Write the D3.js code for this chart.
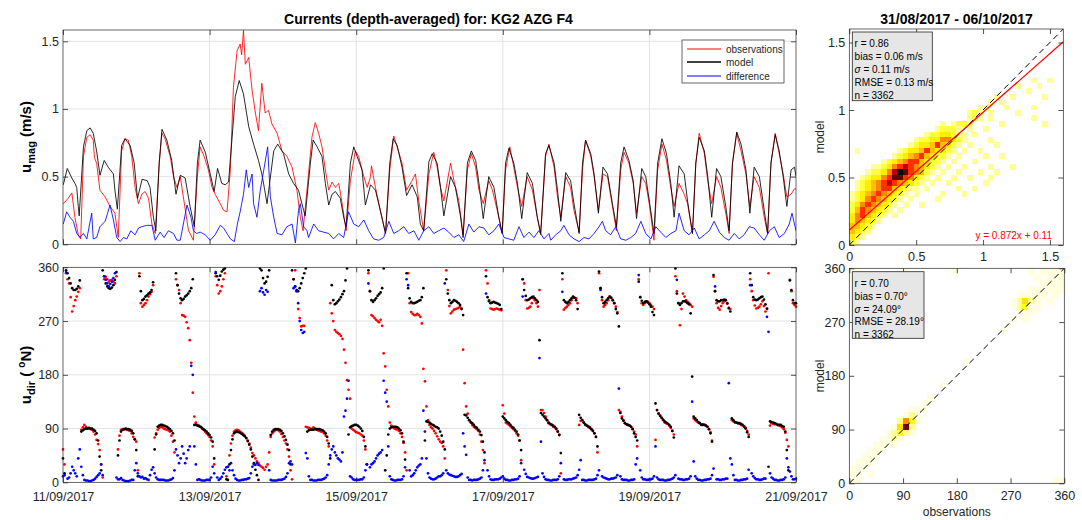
<!DOCTYPE html>
<html><head><meta charset="utf-8">
<script src="https://cdn.jsdelivr.net/npm/d3@7"></script>
<style>
body{margin:0;background:#fff}
svg text{font-family:"Liberation Sans",Arial,Helvetica,sans-serif}
</style>
</head><body>
<svg id="c" width="1082" height="520"></svg>
<script>
// ---------------- DATA ----------------
// time in hours since 11/09/2017 00:00
const dateTickHours = [0, 48, 96, 144, 192, 240];
const dateTickLabels = ["11/09/2017","13/09/2017","15/09/2017","17/09/2017","19/09/2017","21/09/2017"];
const magTicks = [0, 0.5, 1, 1.5];
const dirTicks = [0, 90, 180, 270, 360];
const seriesNames = ["observations", "model", "difference"];

// magnitude (m/s): [hour, value]
const obsMag = [[0.1,0.30],[1.7,0.34],[2.9,0.38],[3.9,0.20],[5.0,0.07],[5.8,0.04],[6.7,0.65],[7.8,0.79],[8.9,0.81],[9.9,0.77],[10.3,0.64],[11.0,0.60],[12.1,0.40],[13.8,0.35],[15.4,0.28],[17.0,0.23],[18.1,0.05],[19.2,0.69],[20.3,0.78],[21.4,0.77],[22.5,0.65],[23.6,0.42],[24.7,0.30],[25.8,0.37],[26.9,0.39],[28.0,0.34],[29.1,0.15],[30.2,0.08],[31.5,0.60],[32.4,0.82],[33.4,0.78],[35.1,0.65],[36.2,0.50],[37.3,0.42],[38.4,0.50],[39.4,0.35],[41.1,0.10],[42.7,0.03],[44.0,0.50],[44.9,0.72],[46.2,0.65],[47.6,0.55],[48.8,0.42],[49.8,0.37],[51.5,0.30],[52.6,0.25],[53.7,0.24],[54.8,0.55],[55.8,1.16],[57.0,1.43],[58.0,1.48],[58.5,1.40],[59.1,1.58],[59.7,1.33],[60.8,1.38],[61.9,1.14],[63.0,0.97],[64.0,0.84],[65.1,1.19],[66.2,0.97],[67.3,0.99],[68.4,0.89],[70.1,0.82],[71.7,0.69],[73.3,0.65],[75.0,0.57],[76.6,0.40],[77.7,0.20],[78.6,0.10],[80.4,0.52],[81.5,0.79],[82.6,0.90],[83.7,0.82],[84.8,0.72],[85.9,0.55],[87.0,0.40],[88.1,0.46],[89.2,0.42],[90.3,0.45],[91.4,0.30],[92.7,0.10],[94.1,0.47],[95.7,0.69],[96.8,0.65],[98.5,0.50],[99.6,0.42],[100.7,0.50],[101.0,0.58],[102.3,0.42],[103.9,0.25],[105.6,0.08],[107.0,0.55],[108.3,0.80],[109.4,0.72],[111.0,0.60],[112.5,0.40],[114.3,0.47],[115.4,0.52],[116.5,0.32],[118.1,0.10],[119.8,0.52],[121.4,0.68],[122.5,0.57],[123.6,0.42],[124.7,0.32],[126.9,0.60],[128.0,0.47],[129.6,0.32],[131.0,0.07],[132.4,0.55],[133.7,0.67],[135.1,0.57],[136.2,0.40],[137.6,0.30],[139.4,0.47],[140.6,0.40],[142.2,0.25],[143.8,0.08],[144.9,0.55],[146.3,0.72],[147.6,0.57],[148.8,0.42],[150.2,0.28],[152.0,0.50],[153.7,0.40],[155.3,0.20],[156.4,0.07],[158.0,0.65],[159.1,0.74],[160.8,0.57],[161.9,0.35],[163.0,0.20],[164.6,0.50],[166.2,0.42],[167.3,0.25],[169.0,0.09],[170.1,0.55],[171.1,0.77],[172.8,0.65],[173.9,0.50],[175.3,0.25],[176.8,0.52],[178.3,0.50],[179.9,0.28],[181.2,0.10],[182.6,0.55],[183.7,0.68],[185.3,0.60],[186.7,0.45],[187.8,0.23],[189.5,0.50],[190.8,0.45],[192.1,0.28],[193.5,0.03],[194.7,0.55],[196.1,0.74],[197.6,0.62],[199.0,0.42],[200.1,0.28],[201.7,0.45],[203.4,0.37],[204.5,0.30],[206.1,0.08],[207.2,0.60],[208.3,0.82],[210.0,0.67],[211.1,0.47],[212.4,0.30],[214.0,0.50],[215.4,0.42],[217.0,0.23],[218.1,0.08],[219.2,0.60],[220.6,0.82],[222.0,0.69],[223.6,0.52],[224.9,0.28],[226.3,0.50],[228.0,0.42],[229.6,0.20],[230.7,0.08],[231.8,0.60],[233.2,0.82],[234.5,0.67],[235.8,0.52],[237.0,0.35],[238.4,0.37],[239.5,0.41],[240.0,0.41]];

const modMag = [[0.1,0.44],[1.4,0.56],[2.9,0.49],[3.9,0.45],[4.5,0.42],[5.0,0.28],[5.3,0.21],[6.7,0.72],[7.8,0.84],[8.9,0.86],[9.9,0.82],[11.0,0.69],[12.1,0.51],[13.5,0.62],[14.8,0.57],[16.5,0.52],[17.0,0.40],[17.8,0.26],[19.2,0.73],[20.3,0.78],[22.0,0.73],[23.3,0.60],[24.4,0.34],[25.9,0.48],[27.6,0.47],[28.5,0.42],[29.6,0.20],[30.4,0.10],[31.5,0.60],[32.4,0.85],[34.0,0.77],[35.6,0.62],[37.0,0.37],[38.4,0.51],[40.0,0.49],[41.6,0.28],[43.0,0.13],[44.0,0.60],[44.9,0.77],[46.6,0.68],[48.2,0.52],[49.5,0.39],[50.6,0.56],[52.0,0.45],[53.1,0.44],[54.2,0.46],[55.3,0.77],[56.4,1.09],[57.7,1.21],[59.1,1.11],[60.8,0.87],[62.4,0.74],[64.0,0.62],[65.1,0.52],[65.9,0.42],[66.8,0.30],[69.0,0.69],[70.3,0.74],[72.2,0.67],[73.9,0.52],[75.5,0.45],[77.1,0.40],[78.8,0.25],[79.3,0.21],[81.0,0.60],[81.9,0.77],[83.2,0.72],[84.8,0.65],[85.9,0.45],[87.0,0.29],[88.1,0.37],[89.2,0.39],[90.8,0.34],[91.9,0.20],[92.7,0.13],[94.1,0.60],[95.2,0.72],[96.3,0.65],[97.9,0.55],[99.0,0.29],[100.7,0.44],[102.3,0.40],[103.9,0.25],[105.6,0.08],[107.0,0.60],[108.1,0.78],[109.4,0.73],[111.0,0.57],[112.5,0.36],[114.3,0.44],[116.0,0.35],[117.0,0.15],[118.1,0.10],[119.8,0.61],[120.9,0.67],[122.5,0.60],[123.6,0.42],[124.7,0.21],[126.9,0.50],[128.5,0.42],[130.2,0.20],[131.0,0.05],[132.4,0.60],[133.7,0.69],[135.1,0.62],[136.2,0.45],[137.6,0.19],[139.4,0.50],[141.1,0.42],[142.7,0.20],[143.8,0.08],[144.9,0.60],[146.0,0.71],[147.6,0.60],[148.8,0.45],[150.2,0.19],[152.0,0.53],[153.7,0.45],[155.3,0.20],[156.4,0.08],[158.0,0.67],[159.1,0.73],[160.8,0.60],[161.9,0.40],[163.0,0.17],[164.6,0.53],[166.2,0.47],[167.3,0.30],[169.0,0.08],[170.1,0.60],[171.1,0.77],[172.8,0.67],[173.9,0.52],[175.3,0.23],[176.8,0.57],[178.3,0.52],[179.9,0.30],[181.2,0.13],[182.6,0.60],[183.7,0.72],[185.3,0.62],[186.7,0.47],[187.8,0.19],[189.5,0.56],[190.8,0.50],[192.1,0.30],[193.5,0.08],[194.7,0.60],[196.1,0.78],[197.6,0.67],[199.0,0.45],[200.1,0.20],[201.7,0.58],[203.4,0.52],[204.5,0.32],[206.1,0.08],[207.2,0.60],[208.3,0.79],[210.0,0.69],[211.1,0.50],[212.4,0.20],[214.0,0.56],[215.4,0.50],[217.0,0.28],[218.1,0.10],[219.2,0.60],[220.6,0.83],[222.0,0.74],[223.6,0.55],[224.9,0.23],[226.3,0.57],[228.0,0.50],[229.6,0.25],[230.7,0.08],[231.8,0.60],[233.2,0.81],[234.5,0.69],[235.8,0.50],[237.0,0.28],[238.4,0.55],[239.5,0.57],[240.0,0.50]];

const difMag = [[0.1,0.15],[1.2,0.24],[2.3,0.20],[3.4,0.17],[4.5,0.08],[5.6,0.05],[6.7,0.08],[7.8,0.04],[9.4,0.23],[9.9,0.04],[11.0,0.05],[12.1,0.13],[13.8,0.17],[15.4,0.29],[16.5,0.18],[17.6,0.05],[18.7,0.02],[19.8,0.05],[20.9,0.04],[22.2,0.10],[23.6,0.07],[24.7,0.12],[25.8,0.13],[27.4,0.14],[29.1,0.14],[30.2,0.03],[31.8,0.09],[33.1,0.05],[34.5,0.10],[36.2,0.08],[37.3,0.03],[38.4,0.03],[40.6,0.29],[41.9,0.20],[42.7,0.10],[43.8,0.08],[44.9,0.09],[46.6,0.07],[48.2,0.03],[49.8,0.07],[51.5,0.14],[52.6,0.12],[53.7,0.08],[54.8,0.04],[56.1,0.02],[57.1,0.15],[58.0,0.24],[59.1,0.37],[60.0,0.55],[60.8,0.42],[61.9,0.52],[62.4,0.30],[63.5,0.20],[64.6,0.40],[65.9,0.57],[67.0,0.72],[67.9,0.35],[69.0,0.20],[70.1,0.08],[71.7,0.07],[73.3,0.13],[75.0,0.15],[76.1,0.01],[77.1,0.25],[77.7,0.30],[78.8,0.13],[79.9,0.10],[80.4,0.05],[82.1,0.15],[83.7,0.10],[85.3,0.09],[87.0,0.08],[88.6,0.04],[90.3,0.08],[91.9,0.05],[93.5,0.24],[95.2,0.15],[96.8,0.13],[98.5,0.18],[100.1,0.10],[101.7,0.04],[103.4,0.03],[105.0,0.05],[106.7,0.17],[108.3,0.08],[109.9,0.10],[111.6,0.13],[113.2,0.08],[114.9,0.10],[116.5,0.03],[118.1,0.10],[119.8,0.13],[121.4,0.08],[123.0,0.10],[124.7,0.12],[126.3,0.09],[128.0,0.05],[129.6,0.07],[131.2,0.02],[132.9,0.15],[134.5,0.09],[136.2,0.13],[137.8,0.12],[139.4,0.07],[141.1,0.10],[142.7,0.15],[144.4,0.05],[146.0,0.04],[147.6,0.03],[149.3,0.13],[150.9,0.05],[152.6,0.09],[154.2,0.05],[155.8,0.10],[157.5,0.04],[159.1,0.08],[159.7,0.03],[161.3,0.07],[163.0,0.10],[164.0,0.14],[165.7,0.07],[167.3,0.04],[169.0,0.02],[170.6,0.05],[172.2,0.04],[173.9,0.08],[175.5,0.13],[176.6,0.17],[177.7,0.10],[179.3,0.07],[181.0,0.13],[182.6,0.04],[184.3,0.03],[185.9,0.05],[187.5,0.08],[189.2,0.17],[190.8,0.08],[192.5,0.04],[194.1,0.13],[195.7,0.09],[197.4,0.05],[199.0,0.08],[200.7,0.10],[201.7,0.23],[203.4,0.10],[205.0,0.07],[206.7,0.12],[208.3,0.04],[210.0,0.07],[211.6,0.10],[213.2,0.17],[214.9,0.09],[216.5,0.05],[218.1,0.03],[219.8,0.08],[221.4,0.04],[223.0,0.07],[224.7,0.13],[226.3,0.12],[228.0,0.07],[229.6,0.03],[231.3,0.10],[232.9,0.13],[234.5,0.05],[236.2,0.08],[237.8,0.15],[238.7,0.23],[240.0,0.10]];

// direction (deg N) on the full hours 0..240
const obsDir = [55,350,333,286,305,319,88,96,90,89, 85,71,54,8,344,336,339,333,55,88, 89,88,86,76,68,350,294,300,311,319, 75,88,93,90,88,85,68,340,322,280, 277,258,200,110,96,93,88,82,76,60, 345,316,328,350,26,65,85,88,85,81, 74,65,49,40,32,26,21,30,76,85, 88,85,76,65,43,5,355,290,261,262, 92,90,92,88,86,85,78,60,283,255, 250,245,222,171,140,88,84,82,78,55, 350,280,275,270,272,216,155,100,92,89, 86,76,50,350,285,280,282,277,190,127, 96,90,82,72,66,40,322,283,289,291, 294,222,127,104,96,91,86,68,32,333, 291,289,291,289,129,100,96,91,86,78, 37,333,291,294,308,300,322,121,110,99, 96,92,85,15,289,294,300,310,308,96, 104,96,94,89,82,50,325,294,300,311, 305,294,121,110,99,96,93,85,60,310, 297,303,300,294,71,115,108,100,98,91, 80,320,263,316,305,300,294,104,100,97, 96,93,84,344,300,289,300,305,291,104, 100,99,96,94,86,340,305,291,294,303, 286,350,99,97,96,94,89,71,339,300, 294];
const modDir = [40,355,342,325,322,328,85,89,90,90, 88,82,43,355,333,325,326,339,45,85, 89,89,88,82,54,345,305,311,316,322, 55,93,96,95,93,89,82,350,316,305, 311,316,325,96,95,93,89,85,79,68, 350,339,353,358,4,54,82,85,83,79, 74,63,43,21,4,355,333,344,79,88, 89,88,82,71,54,355,328,320,333,350, 85,88,88,89,89,87,82,65,330,298, 303,310,320,358,92,95,96,93,86,60, 355,305,305,312,318,358,45,90,93,93, 90,82,38,325,302,300,302,305,325,102, 100,96,93,90,78,55,316,300,305,302, 297,280,112,104,99,93,88,79,50,310, 300,302,300,297,110,104,99,93,88,80, 54,322,305,308,311,305,238,113,107,100, 96,93,85,49,305,300,305,311,305,113, 104,97,93,89,82,60,325,300,305,311, 305,290,261,107,99,96,93,82,70,310, 300,303,298,285,132,115,108,102,98,93, 75,316,297,303,302,298,177,107,101,96, 96,93,82,347,305,303,305,305,292,107, 101,99,98,93,84,350,310,305,308,311, 298,26,101,99,96,96,93,54,338,305, 300];
const difDir = [10,352,8,26,15,40,26,4,3,2, 4,9,15,12,339,328,336,350,5,7, 3,2,3,4,32,10,9,7,4,21, 15,5,4,4,3,4,7,55,32,60, 32,54,195,60,4,4,3,4,4,26, 352,4,9,21,26,32,12,4,3,4, 5,7,26,29,29,325,314,319,4,3, 3,4,5,9,32,30,328,300,255,252, 40,4,3,3,4,5,8,30,55,50, 40,35,110,140,10,5,4,4,5,20, 333,30,35,45,50,170,135,10,4,3, 4,5,25,330,10,15,25,30,120,40, 8,5,6,10,12,333,15,12,10,9, 12,82,46,4,3,4,5,8,37,20, 5,4,5,6,10,4,3,4,5,6, 32,21,9,7,6,8,208,15,5,4, 3,4,5,32,5,4,5,6,8,21, 4,3,4,4,5,12,322,8,6,5, 6,8,157,5,4,3,4,5,40,20, 5,4,5,6,60,5,4,3,4,5, 8,339,5,4,5,6,135,10,4,3, 4,5,6,23,5,4,5,6,166,30, 4,3,4,5,6,330,10,5,4,5, 6,252,8,4,3,4,5,40,18,5, 6];
// direction (deg N) on the half hours 0.5..239.5
const obsDirHalf = [30,340,310,295,311,325,92,93,90,88, 80,64,30,340,340,338,336,345,78,89, 89,87,82,72,20,300,297,305,315,330, 82,91,92,89,87,78,50,330,300,279, 268,238,150,100,95,90,85,79,70,30, 330,320,340,10,45,78,87,87,83,78, 70,58,45,35,28,24,26,50,82,87, 87,81,70,55,20,340,320,275,262,93, 91,89,90,87,85,82,70,300,270,252, 248,240,200,155,90,86,83,80,70,30, 320,278,272,268,262,194,127,95,90,88, 82,66,20,300,282,280,280,266,169,104, 92,86,77,68,60,355,295,286,290,292, 291,166,115,100,93,89,80,54,355,305, 290,290,290,288,115,98,94,89,82,70, 340,305,292,300,305,294,121,116,104,97, 93,89,80,340,292,297,305,309,300,103, 100,95,92,86,76,350,305,297,305,309, 300,285,118,104,97,95,90,80,340,300, 300,302,297,290,121,112,104,99,95,86, 345,300,290,311,302,297,107,102,99,97, 95,89,70,320,292,295,303,299,290,102, 100,98,95,91,80,320,296,292,298,295, 290,95,98,97,95,92,83,60,320,297];
const modDirHalf = [15,350,333,322,324,338,87,90,91,90, 86,70,20,345,328,324,330,352,70,88, 90,89,86,72,10,320,307,313,318,335, 80,95,96,94,91,86,70,330,308,307, 313,320,340,96,94,91,87,82,75,40, 345,346,356,5,30,72,84,84,81,77, 69,55,32,12,358,342,336,355,85,89, 89,86,77,63,30,340,322,325,342,358, 87,88,89,89,88,85,76,40,305,300, 306,315,338,80,94,96,95,90,76,30, 320,302,308,315,325,20,80,92,93,92, 87,68,350,308,300,301,304,310,70,101, 98,95,92,85,68,340,305,302,304,300, 290,113,108,101,96,91,85,68,345,303, 301,301,299,290,107,101,96,91,85,70, 340,312,306,310,308,302,116,110,104,98, 95,90,79,350,302,302,308,309,290,108, 100,95,91,86,76,353,310,302,308,309, 300,283,116,103,97,95,89,76,336,304, 302,301,294,280,121,111,105,100,96,86, 358,300,300,303,300,283,110,104,99,96, 95,89,68,320,303,305,306,300,286,104, 100,99,96,90,76,330,306,306,310,306, 291,102,100,98,96,94,85,20,322,300];
const difDirHalf = [12,6,15,20,10,55,12,3,2,3, 6,12,30,345,333,332,342,8,5,4, 2,2,4,20,15,8,6,5,12,25, 8,4,4,3,3,5,20,45,40,48, 40,60,180,30,5,3,3,4,8,15, 8,6,15,25,20,20,6,3,4,5, 6,15,30,32,320,318,322,20,3,3, 4,4,6,15,35,325,320,270,250,49, 10,4,3,4,4,6,12,45,60,45, 38,50,120,170,8,4,4,5,8,30, 25,32,40,48,54,150,60,5,3,4, 4,10,340,20,12,20,28,40,85,15, 6,5,8,10,15,20,13,11,9,10, 14,60,8,4,4,4,6,20,316,10, 4,5,5,8,6,4,3,4,5,10, 311,14,8,6,7,9,68,9,4,3, 4,4,10,319,4,5,5,7,12,37, 4,3,4,4,6,20,10,7,5,6, 7,12,10,4,4,3,4,30,347,8, 5,4,5,10,8,4,4,3,4,6, 12,6,5,4,5,10,35,6,4,3, 4,5,12,328,5,4,5,6,40,12, 4,3,4,5,21,15,7,5,4,6, 277,15,6,4,3,4,8,25,10,5];

// scatter density levels (0-9); rows from top (highest model bin) to bottom
const magBin = 0.04;   // 40 x 40 bins over 0..1.6
const magHistRows = [
"","","","","","","","","",
"0000000000000000000000000000000000100100",
"0000000000000000000000000000000100010000",
"0000000000000000000000000000000001000000",
"0000000000000000000000000001001000001000",
"0000000000000000000000000010100000000000",
"0000000000000000000000001100010000100000",
"0000000000000000000000121010000100000000",
"0000000000000000000000121010000000100000",
"0000000000000000010122100000100000001000",
"0000000000000000122210100100000000000000",
"0000000000000012233211010000000000000000",
"0000000000001223355321000010000000000000",
"0000000000012334643210100001000000000000",
"0100000001233464332101001000000000000000",
"0000000012345643221010000100100000000000",
"0000001234566432210100010000000000000000",
"0000112356765432101001000010001000000000",
"0001223579865421010010001001000000000000",
"0012335688653210100100100010000000000000",
"0123456765432101001000000100000000000000",
"0123456643211010000010010000000000000000",
"1234565432101000010001000000000000000000",
"1235654321010000100000000000000000000000",
"2356543210100100000000000000000000000000",
"2465432101",
"3564321010",
"3543210000",
"4432100000",
"4321000000",
"3210000000",
"2100000000"];

const dirBin = 10;     // 36 x 36 bins over 0..360
const dirHistRows = [
"110000000100000001000000000000101111",
"100000000000000000000000000000010111",
"000000000000000000000000000000001111",
"000000000000000000000000000000111111",
"000000000000000000000000000011111010",
"000000000000000000000000000124210100",
"000000000000000000000000000123110000",
"000000000000000000000000000011100000",
"000000000000000000000000000101",
"00000000000000000000000000100",
"0000000000000000000000000100",
"","","","",
"00000000000000000001",
"","","",
"00000000000000010000",
"",
"00000000000001000000",
"00000000000011000000",
"00000000001110000000",
"00000000012100000000",
"00000000253100000000",
"00000001482000000000",
"00000012321000000000",
"0000011210",
"0000111100",
"0001110000",
"0011100000",
"0111000000",
"1110000000",
"1101000000",
"110000000000000000000000000000000011"];

const magStats = ["r = 0.86", "bias = 0.06 m/s", "\u03c3 = 0.11 m/s", "RMSE = 0.13 m/s", "n = 3362"];
const dirStats = ["r = 0.70", "bias = 0.70\u00b0", "\u03c3 = 24.09\u00b0", "RMSE = 28.19\u00b0", "n = 3362"];
const fitSlope = 0.872, fitIntercept = 0.11;
const fitLabel = "y = 0.872x + 0.11";

// ---------------- STYLE ----------------
const heatColorsMag = ["none","#ffff9a","#ffff3c","#ffee00","#ffc000","#ff8800","#ff3000","#c00000","#600000","#000000"];
const heatColorsDir = ["none","#fffee0","#ffff90","#ffff20","#ffe000","#ff9000","#ff4000","#d00000","#800000","#000000"];
const colObs = "#ff0000", colMod = "#000000", colDif = "#0000ff";
const axCol = "#262626";

// ---------------- DRAW ----------------
const svg = d3.select("#c");
svg.append("rect").attr("width",1082).attr("height",520).attr("fill","#fff");

const xT = d3.scaleLinear().domain([0,240]).range([63,796]);
const yMag = d3.scaleLinear().domain([0,1.5835]).range([244.3,30]);
const yDir = d3.scaleLinear().domain([0,360]).range([482.3,267.3]);
const sxC = d3.scaleLinear().domain([0,1.6]).range([849.3,1063.3]);
const syC = d3.scaleLinear().domain([0,1.6]).range([245,29]);
const sxD = d3.scaleLinear().domain([0,360]).range([849.3,1064.3]);
const syD = d3.scaleLinear().domain([0,360]).range([483.3,268.3]);

function styleAxis(a, fs) {
  a.select(".domain").remove();
  a.selectAll(".tick line").attr("stroke", axCol).attr("stroke-width", 0.8);
  a.selectAll(".tick text").attr("fill", axCol).style("font-size", fs + "px");
  return a;
}
function frame(xs, ys, xv, yv, opts) {
  const [x0,x1] = xs.range(), [y0,y1] = ys.range();
  const g = svg.append("g");
  const fmtX = opts.xFormat || (() => ""), fmtY = opts.yFormat || (() => "");
  styleAxis(g.append("g").attr("transform",`translate(${x0},0)`).call(d3.axisLeft(ys).tickValues(yv).tickSize(-5).tickPadding(opts.yPad||4).tickFormat(fmtY)), 12.5);
  styleAxis(g.append("g").attr("transform",`translate(${x1},0)`).call(d3.axisRight(ys).tickValues(yv).tickSize(-5).tickFormat(() => "")), 12);
  styleAxis(g.append("g").attr("transform",`translate(0,${y0})`).call(d3.axisBottom(xs).tickValues(xv).tickSize(-5).tickPadding(opts.xPad||8).tickFormat(fmtX)), 12.5);
  styleAxis(g.append("g").attr("transform",`translate(0,${y1})`).call(d3.axisTop(xs).tickValues(xv).tickSize(-5).tickFormat(() => "")), 12);
  g.append("rect").attr("x",x0).attr("y",y1).attr("width",x1-x0).attr("height",y0-y1)
    .attr("fill","none").attr("stroke",axCol).attr("stroke-width",0.7);
}
function grid(xs, ys, xv, yv) {
  const [x0,x1] = xs.range(), [y0,y1] = ys.range();
  const g = svg.append("g").attr("stroke","#e3e3e3").attr("stroke-width",1);
  xv.forEach(v => { const x = xs(v); if (x > x0+1 && x < x1-1) g.append("line").attr("x1",x).attr("x2",x).attr("y1",y1).attr("y2",y0); });
  yv.forEach(v => { const y = ys(v); if (y < y0-1 && y > y1+1) g.append("line").attr("x1",x0).attr("x2",x1).attr("y1",y).attr("y2",y); });
}
function clip(id, xs, ys) {
  const [x0,x1] = xs.range(), [y0,y1] = ys.range();
  svg.append("clipPath").attr("id",id).append("rect").attr("x",x0).attr("y",y1).attr("width",x1-x0).attr("height",y0-y1);
}
const fmtNum = d => String(d);

// ---- panel 1: magnitude time series
grid(xT, yMag, dateTickHours, magTicks);
clip("cp1", xT, yMag);
const line = d3.line().x(d => xT(d[0])).y(d => yMag(d[1]));
const gl = svg.append("g").attr("clip-path","url(#cp1)").attr("fill","none").attr("stroke-width",0.85).attr("stroke-linejoin","round");
gl.append("path").datum(obsMag).attr("d",line).attr("stroke",colObs);
gl.append("path").datum(modMag).attr("d",line).attr("stroke",colMod);
gl.append("path").datum(difMag).attr("d",line).attr("stroke",colDif);
frame(xT, yMag, dateTickHours, magTicks, {yFormat: fmtNum});

// legend
const lg = svg.append("g");
lg.append("rect").attr("x",682).attr("y",40).attr("width",102).attr("height",43).attr("fill","#fff").attr("stroke",axCol).attr("stroke-width",0.7);
[colObs, colMod, colDif].forEach((c,i) => {
  const y = Math.round(49 + i*13.3);
  lg.append("path").attr("d",`M687,${y}H721`).style("stroke",c).style("stroke-width", i === 1 ? "1.3px" : "1px").style("fill","none");
  lg.append("text").attr("x",726).attr("y",y+4).style("font-size","10px").attr("fill",axCol).text(seriesNames[i]);
});

// ---- panel 2: direction dots
grid(xT, yDir, dateTickHours, dirTicks);
const gd = svg.append("g");
[[obsDir,obsDirHalf,colObs],[modDir,modDirHalf,colMod],[difDir,difDirHalf,colDif]].forEach(([full,half,c]) => {
  const pts = full.map((d,i) => [i, d]).concat(half.map((d,i) => [i + 0.5, d]));
  gd.append("g").attr("fill",c).selectAll("circle").data(pts).join("circle")
    .attr("cx",d => xT(d[0])).attr("cy",d => yDir(d[1])).attr("r",1.35);
});
frame(xT, yDir, dateTickHours, dirTicks, {yFormat: fmtNum, xFormat: (d,i) => dateTickLabels[i], xPad: 10});

// ---- heat map helper
function heat(rows, bin, nb, sx, sy, pal) {
  const g = svg.append("g").attr("shape-rendering","crispEdges");
  rows.forEach((row, r) => {
    const j = nb - 1 - r;
    for (let i = 0; i < nb; i++) {
      const lv = +(row[i] || 0);
      if (!lv) continue;
      const x0 = sx(i*bin), x1 = sx((i+1)*bin), yt = sy((j+1)*bin), yb = sy(j*bin);
      g.append("rect").attr("x",x0).attr("y",yt).attr("width",x1-x0+0.4).attr("height",yb-yt+0.4).attr("fill",pal[lv]);
    }
  });
}
function statsBox(x, y, w, h, lines) {
  const g = svg.append("g");
  g.append("rect").attr("x",x).attr("y",y).attr("width",w).attr("height",h).attr("fill","#e6e6e6").attr("stroke",axCol).attr("stroke-width",0.8);
  lines.forEach((s, i) => {
    const t = g.append("text").attr("x",x+2.3).attr("y",y+15 + i*12.9).style("font-size","10px").attr("fill","#000");
    if (s.startsWith("\u03c3")) {
      t.append("tspan").style("font-style","italic").text("\u03c3");
      t.append("tspan").text(s.slice(1));
    } else t.text(s);
  });
}

// ---- panel 3: magnitude scatter density
clip("cp3", sxC, syC);
heat(magHistRows, magBin, 40, sxC, syC, heatColorsMag);
const g3 = svg.append("g").attr("clip-path","url(#cp3)");
g3.append("line").attr("x1",sxC(0)).attr("y1",syC(0)).attr("x2",sxC(1.6)).attr("y2",syC(1.6)).attr("stroke","#000").attr("stroke-width",1).attr("stroke-dasharray","6,4");
g3.append("line").attr("x1",sxC(0)).attr("y1",syC(fitIntercept)).attr("x2",sxC(1.6)).attr("y2",syC(fitSlope*1.6+fitIntercept)).attr("stroke","#ff0000").attr("stroke-width",1.2);
frame(sxC, syC, magTicks, magTicks, {yFormat: fmtNum, xFormat: fmtNum, xPad: 7.5});
statsBox(852.3, 32, 80, 68.7, magStats);
svg.append("text").attr("x",1052).attr("y",239).attr("text-anchor","end").style("font-size","10px").attr("fill","#ff0000").text(fitLabel);

// ---- panel 4: direction scatter density
clip("cp4", sxD, syD);
heat(dirHistRows, dirBin, 36, sxD, syD, heatColorsDir);
svg.append("g").attr("clip-path","url(#cp4)").append("line").attr("x1",sxD(0)).attr("y1",syD(0)).attr("x2",sxD(360)).attr("y2",syD(360)).attr("stroke","#000").attr("stroke-width",1).attr("stroke-dasharray","6,4");
frame(sxD, syD, dirTicks, dirTicks, {yFormat: fmtNum, xFormat: fmtNum, xPad: 8});
statsBox(852.3, 271.7, 71.7, 66.6, dirStats);

// ---- titles and labels
svg.append("text").attr("x",428.5).attr("y",24).attr("text-anchor","middle").style("font-size","14px").style("font-weight","bold").attr("fill","#000").text("Currents (depth-averaged) for: KG2 AZG F4");
svg.append("text").attr("x",956.5).attr("y",24).attr("text-anchor","middle").style("font-size","14px").style("font-weight","bold").attr("fill","#000").text("31/08/2017 - 06/10/2017");

const yl1 = svg.append("text").attr("transform","translate(30.5,137) rotate(-90)").attr("text-anchor","middle").style("font-size","15px").style("font-weight","bold").attr("fill","#000");
yl1.append("tspan").text("u");
yl1.append("tspan").attr("dy",4).style("font-size","11px").text("mag");
yl1.append("tspan").attr("dy",-4).text(" (m/s)");

const yl2 = svg.append("text").attr("transform","translate(30.5,375) rotate(-90)").attr("text-anchor","middle").style("font-size","15px").style("font-weight","bold").attr("fill","#000");
yl2.append("tspan").text("u");
yl2.append("tspan").attr("dy",4).style("font-size","11px").text("dir");
yl2.append("tspan").attr("dy",-4).text(" ( ");
yl2.append("tspan").attr("dy",-6).style("font-size","10px").text("o");
yl2.append("tspan").attr("dy",6).text("N)");

svg.append("text").attr("transform","translate(823.5,137) rotate(-90)").attr("text-anchor","middle").style("font-size","12px").attr("fill",axCol).text("model");
svg.append("text").attr("transform","translate(823.5,376) rotate(-90)").attr("text-anchor","middle").style("font-size","12px").attr("fill",axCol).text("model");
svg.append("text").attr("x",956.8).attr("y",516).attr("text-anchor","middle").style("font-size","12px").attr("fill",axCol).text("observations");
</script>
</body></html>
